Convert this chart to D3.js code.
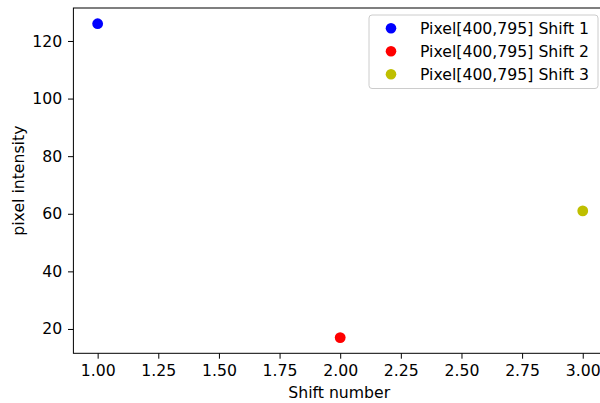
<!DOCTYPE html>
<html><head><meta charset="utf-8">
<script src="https://cdn.jsdelivr.net/npm/d3@7"></script>
<style>body{margin:0;background:#fff}svg{display:block}</style>
</head><body>
<script>
const shifts = [1, 2, 3];
const intensities = [126, 17, 61];
const labels = ["Pixel[400,795] Shift 1", "Pixel[400,795] Shift 2", "Pixel[400,795] Shift 3"];
const colors = ["#0000ff", "#ff0000", "#bfbf00"];
const xTicks = [1.00, 1.25, 1.50, 1.75, 2.00, 2.25, 2.50, 2.75, 3.00];
const yTicks = [20, 40, 60, 80, 100, 120];

const W = 600, H = 403;
const L = 73.4, R = 607, T = 8, B = 353.3;
const FF = "DejaVu Sans", FS = "15.7px";
const svg = d3.select("body").append("svg").attr("width", W).attr("height", H);

const x = d3.scaleLinear().domain([0.9, 3.1]).range([L, R]);
const y = d3.scaleLinear().domain([11.55, 131.45]).range([B, T]);

const gx = svg.append("g").attr("transform", `translate(0,${B})`)
  .call(d3.axisBottom(x).tickValues(xTicks).tickFormat(d3.format(".2f")).tickSizeOuter(0).tickSize(5.4).tickPadding(6));
const gy = svg.append("g").attr("transform", `translate(${L},0)`)
  .call(d3.axisLeft(y).tickValues(yTicks).tickFormat(d3.format("d")).tickSizeOuter(0).tickSize(5.4).tickPadding(5.8));
[gx, gy].forEach(g => {
  g.attr("font-family", FF).attr("font-size", FS);
  g.select(".domain").remove();
  g.selectAll(".tick line").attr("stroke", "#000").attr("stroke-width", 1);
  g.selectAll(".tick text").attr("fill", "#000").attr("font-family", FF).attr("font-size", FS);
});

// spines
svg.append("rect").attr("x", L).attr("y", T).attr("width", R - L).attr("height", B - T)
  .attr("fill", "none").attr("stroke", "#000").attr("stroke-width", 1);

// points
svg.append("g").selectAll("circle").data(shifts).join("circle")
  .attr("cx", (d, i) => x(d)).attr("cy", (d, i) => y(intensities[i]))
  .attr("r", 5.4).attr("fill", (d, i) => colors[i]);

// axis labels
svg.append("text").attr("x", (L + R) / 2 - 1).attr("y", 398).attr("text-anchor", "middle")
  .attr("font-family", FF).attr("font-size", FS).text("Shift number");
svg.append("text").attr("transform", `translate(24,${(T + B) / 2}) rotate(-90)`).attr("text-anchor", "middle")
  .attr("font-family", FF).attr("font-size", FS).text("pixel intensity");

// legend
const lg = svg.append("g");
lg.append("rect").attr("x", 369).attr("y", 15).attr("width", 229).attr("height", 73.5).attr("rx", 3)
  .attr("fill", "#fff").attr("fill-opacity", 0.8).attr("stroke", "#cccccc").attr("stroke-width", 1);
labels.forEach((t, i) => {
  const cy = 28.3 + i * 23;
  lg.append("circle").attr("cx", 391).attr("cy", cy).attr("r", 5.3).attr("fill", colors[i]);
  lg.append("text").attr("x", 420).attr("y", cy + 5.7).attr("font-family", FF).attr("font-size", FS).text(t);
});
</script>
</body></html>
